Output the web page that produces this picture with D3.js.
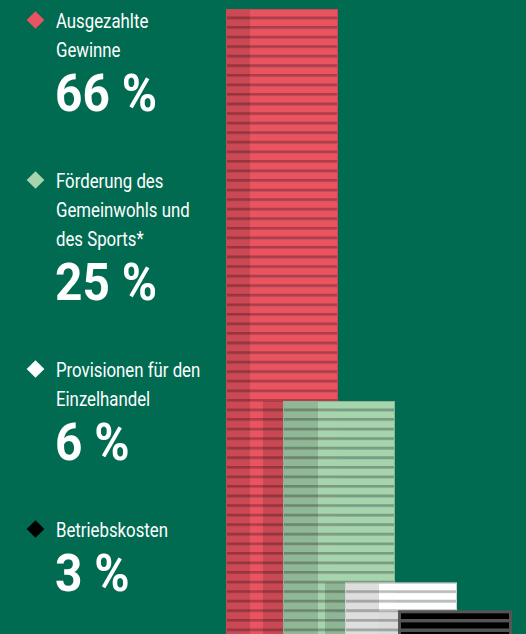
<!DOCTYPE html>
<html>
<head>
<meta charset="utf-8">
<script src="https://cdn.jsdelivr.net/npm/d3@7"></script>
<style>
  html, body { margin: 0; padding: 0; background: #016b52; }
  svg { display: block; }
  text { font-family: Roboto, "DejaVu Sans Condensed", sans-serif; fill: #fff; }
</style>
</head>
<body>
<div id="chart"></div>
<script>
// data
var Categories = ["Ausgezahlte Gewinne", "Förderung des Gemeinwohls und des Sports*", "Provisionen für den Einzelhandel", "Betriebskosten"];
var LabelLines = [["Ausgezahlte", "Gewinne"], ["Förderung des", "Gemeinwohls und", "des Sports*"], ["Provisionen für den", "Einzelhandel"], ["Betriebskosten"]];
var Shares = [66, 25, 6, 3];
var ValueLabels = ["66 %", "25 %", "6 %", "3 %"];

// styles per category
var Fills = ["#ea5461", "#a6d4ad", "#ffffff", "#000000"];
var LineColors = ["#b03c49", "#7a9c81", "#bdbdbd", "#555555"];
var EdgeColors = ["#c64856", "#8fb296", "#d0d0d0", "#555555"];
var DiamondColors = ["#ea5461", "#a6d4ad", "#ffffff", "#000000"];
var StripWidths = [24, 35, 34, 0];

var Width = 526, Height = 634;

var svg = d3.select("#chart").append("svg")
    .attr("width", Width)
    .attr("height", Height);

svg.append("rect").attr("width", Width).attr("height", Height).attr("fill", "#016b52");

// scales
var y = d3.scaleLinear().domain([0, 66]).range([640, 9]);
var x = d3.scaleOrdinal().domain(Categories).range([226, 283, 345, 399]);
var BarWidth = 112;

svg.selectAll("g.bar")
    .data(Categories)
    .enter()
    .append("g")
    .attr("class", "bar")
    .each(function (cat, i) {
        var g = d3.select(this);
        var x0 = x(cat);
        var v = Shares[i];

        // shadow on the bar behind
        if (i > 0) {
            g.append("rect")
                .attr("x", x0 - 20)
                .attr("y", y(v))
                .attr("width", 20)
                .attr("height", y(0) - y(v))
                .attr("fill", "#000")
                .attr("opacity", 0.14);
        }

        // one coin per percent
        var coins = d3.range(v);
        g.selectAll("rect.coin")
            .data(coins)
            .enter()
            .append("rect")
            .attr("class", "coin")
            .attr("x", x0 + 0.5)
            .attr("y", d => y(d + 1) + 0.5)
            .attr("width", BarWidth - 1)
            .attr("height", d => y(d) - y(d + 1) - 1)
            .attr("fill", Fills[i])
            .attr("stroke", EdgeColors[i])
            .attr("stroke-width", i === 3 ? 2 : 1);

        g.selectAll("line.sep")
            .data(coins)
            .enter()
            .append("line")
            .attr("class", "sep")
            .attr("x1", x0)
            .attr("x2", x0 + BarWidth)
            .attr("y1", d => y(d) - 1)
            .attr("y2", d => y(d) - 1)
            .attr("stroke", LineColors[i])
            .attr("stroke-width", 2);

        // darker left strip
        if (StripWidths[i] > 0) {
            g.append("rect")
                .attr("x", x0)
                .attr("y", y(v))
                .attr("width", StripWidths[i])
                .attr("height", y(0) - y(v))
                .attr("fill", "#000")
                .attr("opacity", 0.13);
        }

        // outline
        g.append("rect")
            .attr("x", x0 + 0.5)
            .attr("y", y(v) + 0.5)
            .attr("width", BarWidth - 1)
            .attr("height", y(0) - y(v))
            .attr("fill", "none")
            .attr("stroke", i === 3 ? "#555" : EdgeColors[i])
            .attr("stroke-width", i === 3 ? 3 : 1);
    });

// legend (condensed look by horizontal scaling)
var LabelScale = 0.8, NumberScale = 0.92;
var LineStep = 29, NumberOffset = 54, GroupGap = 77;
var cy = 28;
Categories.forEach((cat, i) => {
    var g = svg.append("g");
    g.append("path")
        .attr("d", d3.symbol().type(d3.symbolDiamond2).size(200)())
        .attr("transform", "translate(35.5," + (cy - 8) + ")")
        .attr("fill", DiamondColors[i]);
    LabelLines[i].forEach((line, j) => {
        g.append("text")
            .attr("transform", "translate(56," + (cy + j * LineStep) + ") scale(" + LabelScale + ",1)")
            .attr("font-size", 21)
            .text(line);
    });
    var nb = cy + (LabelLines[i].length - 1) * LineStep + NumberOffset;
    g.append("text")
        .attr("transform", "translate(55," + nb + ") scale(" + NumberScale + ",1)")
        .attr("font-size", 52)
        .attr("font-weight", "bold")
        .text(ValueLabels[i]);
    cy = nb + GroupGap;
});
</script>
</body>
</html>
